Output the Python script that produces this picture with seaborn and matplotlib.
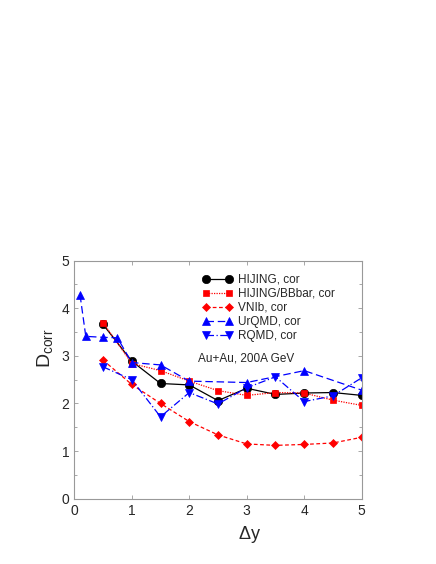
import matplotlib
matplotlib.use("Agg")
import matplotlib.pyplot as plt
import seaborn as sns
from matplotlib.ticker import MultipleLocator

# values
hijing_x = [0.5, 1.0, 1.5, 2.0, 2.5, 3.0, 3.5, 4.0, 4.5, 5.0]
hijing_y = [3.66, 2.89, 2.42, 2.39, 2.06, 2.32, 2.19, 2.22, 2.23, 2.17]

bbbar_x = [0.5, 1.0, 1.5, 2.0, 2.5, 3.0, 3.5, 4.0, 4.5, 5.0]
bbbar_y = [3.70, 2.84, 2.69, 2.47, 2.27, 2.17, 2.23, 2.22, 2.07, 1.96]

vnib_x = [0.5, 1.0, 1.5, 2.0, 2.5, 3.0, 3.5, 4.0, 4.5, 5.0]
vnib_y = [2.91, 2.40, 2.00, 1.62, 1.34, 1.15, 1.12, 1.14, 1.17, 1.29]

urqmd_x = [0.1, 0.2, 0.5, 0.75, 1.0, 1.5, 2.0, 3.0, 4.0, 5.0]
urqmd_y = [4.28, 3.41, 3.39, 3.38, 2.86, 2.81, 2.47, 2.44, 2.69, 2.28]

rqmd_x = [0.5, 1.0, 1.5, 2.0, 2.5, 3.0, 3.5, 4.0, 4.5, 5.0]
rqmd_y = [2.77, 2.50, 1.72, 2.23, 1.99, 2.33, 2.56, 2.04, 2.16, 2.54]

sns.set_style("ticks")
plt.rcParams['font.family'] = ['Liberation Sans', 'DejaVu Sans']
plt.rcParams['mathtext.fontset'] = 'custom'
plt.rcParams['mathtext.rm'] = 'Liberation Sans'
plt.rcParams['mathtext.it'] = 'Liberation Sans'

fig = plt.figure(figsize=(4.36, 5.64), dpi=100)
ax = fig.add_axes([0.1704, 0.1158, 0.6592, 0.422])

series = [
    (hijing_x, hijing_y, "HIJING, cor", "black", "o", "-", 6.0),
    (bbbar_x, bbbar_y, "HIJING/BBbar, cor", "#ff0000", "s", (0, (1, 1)), 5.0),
    (vnib_x, vnib_y, "VNIb, cor", "#ff0000", "D", (0, (3, 2)), 4.2),
    (urqmd_x, urqmd_y, "UrQMD, cor", "#0000ff", "^", (0, (6, 3)), 6.0),
    (rqmd_x, rqmd_y, "RQMD, cor", "#0000ff", "v", (0, (6, 2, 1, 2)), 6.0),
]
for xs, ys, name, col, mk, ls, ms in series:
    sns.lineplot(x=xs, y=ys, ax=ax, color=col, marker=mk, linestyle=ls,
                 markersize=ms, markeredgecolor=col, markeredgewidth=0.5,
                 linewidth=0.9, label=name, sort=False)

ax.set_xlim(0, 5)
ax.set_ylim(0, 5)
ax.xaxis.set_major_locator(MultipleLocator(1))
ax.yaxis.set_major_locator(MultipleLocator(1))
ax.yaxis.set_minor_locator(MultipleLocator(0.5))
ax.tick_params(which="both", direction="in", top=True, right=True,
               color="#999999", labelsize=10, length=3, width=0.6)
ax.tick_params(which="minor", length=2)
for sp in ax.spines.values():
    sp.set_color("#999999")
    sp.set_linewidth(0.8)

ax.set_xlabel(r"$\Delta$y", fontsize=13)
ax.set_ylabel(r"D$_{\rm corr}$", fontsize=14)
ax.xaxis.set_label_coords(0.611, -0.105)
ax.yaxis.set_label_coords(-0.066, 0.633)

ax.legend(loc="upper left", bbox_to_anchor=(0.43, 0.965), frameon=False,
          numpoints=2, handlelength=2.5, handletextpad=0.5, labelspacing=0.18,
          fontsize=8.5, borderaxespad=0)
ax.text(0.43, 0.578, "Au+Au, 200A GeV", transform=ax.transAxes, fontsize=8.5)

fig.savefig("out.png", dpi=100)
